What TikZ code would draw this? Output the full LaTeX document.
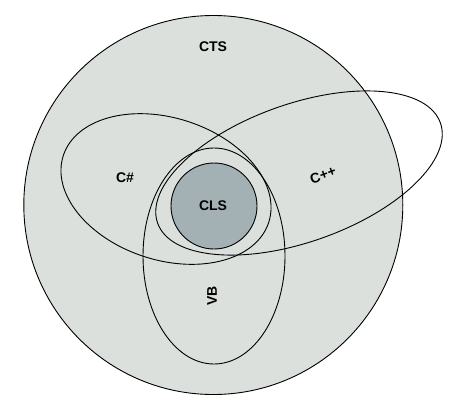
\documentclass[tikz,border=0pt]{standalone}
\usepackage{fontspec}
\setmainfont{Liberation Sans}
\definecolor{ctsfill}{HTML}{DCE0DD}
\definecolor{clsfill}{HTML}{A3B1B4}
\begin{document}
\begin{tikzpicture}[x=1pt,y=-1pt,
  outline/.style={draw=black,line width=0.9pt},
  lbl/.style={font=\fontsize{14}{16}\selectfont\bfseries,inner sep=0pt}]
\useasboundingbox (0,0) rectangle (465,412);
% CTS
\draw[outline,fill=ctsfill] (213.3,205) circle[radius=189.5];
% C#
\draw[outline,rotate around={-18:(166,189)}] (166,189) ellipse[x radius=108,y radius=71];
% C++
\draw[outline,rotate around={19.5:(299,173)}] (299,173) ellipse[x radius=150,y radius=69];
% VB
\draw[outline] (214,256) ellipse[x radius=71,y radius=108];
% CLS
\draw[outline,fill=clsfill] (214,206) circle[radius=43];
% labels
\node[lbl] (cts) at (213,47) {CTS};
\node[lbl] (csharp) at (125,177.5) {C\#};
\node[lbl,rotate=20] (cpp) at (323,175) {C++};
\node[lbl] (cls) at (213,206) {CLS};
\node[lbl,rotate=90] (vb) at (212,296) {VB};
\end{tikzpicture}
\end{document}
